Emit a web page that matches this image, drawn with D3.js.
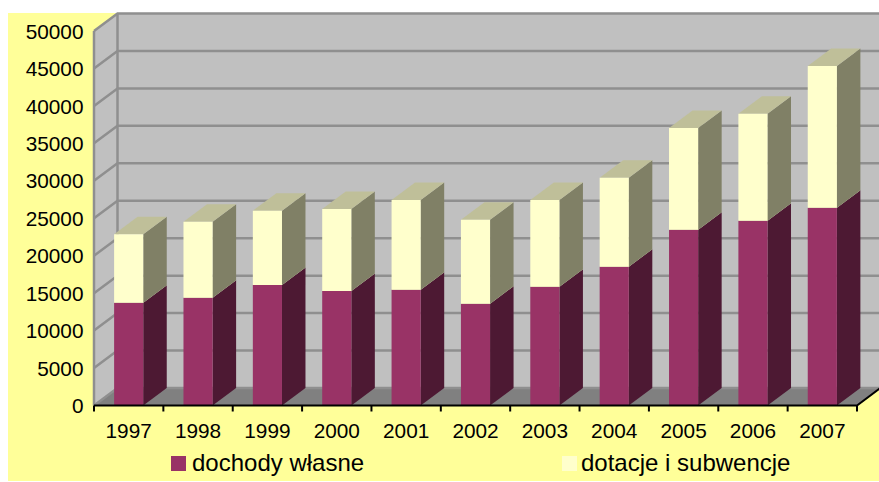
<!DOCTYPE html>
<html><head><meta charset="utf-8">
<style>html,body{margin:0;padding:0;background:#fff}svg{display:block}text{font-family:"Liberation Sans",Arial,sans-serif;fill:#000}</style>
<script src="https://cdn.jsdelivr.net/npm/d3@7"></script></head><body>
<script>
const years=["1997","1998","1999","2000","2001","2002","2003","2004","2005","2006","2007"];
const dochody=[13720,14390,16090,15290,15460,13590,15860,18530,23470,24670,26410];
const dotacje=[9130,10150,9920,10950,11970,11210,11570,11880,13580,14280,18920];
const yTicks=[0,5000,10000,15000,20000,25000,30000,35000,40000,45000,50000];
const seriesNames=["dochody własne","dotacje i subwencje"];
const W=879,H=482,dx=23.5,dy=-17.5;
const svg=d3.select("body").append("svg").attr("width",W).attr("height",H);
svg.append("rect").attr("x",8).attr("y",13).attr("width",W-8).attr("height",H-14).attr("fill","#ffff99");
const y=d3.scaleLinear().domain([0,50000]).range([405.5,31]);
const x=d3.scaleBand().domain(years).range([94,857]).paddingInner(0.58).paddingOuter(0.29);
const x0=94,x1=857,step=x.step();
const poly=(pts,fill,stroke)=>svg.append("polygon").attr("points",pts.map(p=>p.join(",")).join(" ")).attr("fill",fill).attr("stroke",stroke||"none");
// walls and floor
poly([[x0+dx,y(50000)+dy],[x1+dx,y(50000)+dy],[x1+dx,y(0)+dy],[x0+dx,y(0)+dy]],"#c0c0c0");
poly([[x0,y(50000)],[x0+dx,y(50000)+dy],[x0+dx,y(0)+dy],[x0,y(0)]],"#c0c0c0");
poly([[x0,y(0)],[x0+dx,y(0)+dy],[x1+dx,y(0)+dy],[x1,y(0)]],"#808080");
const grid=svg.append("g").attr("fill","none").attr("stroke","#8f8f8f").attr("stroke-width",2.5);
grid.selectAll("path").data(yTicks).join("path")
  .attr("d",v=>`M${x0},${y(v)}L${x0+dx},${y(v)+dy}L${x1+dx},${y(v)+dy}`);
grid.append("path").attr("d",`M${x0},${y(50000)}L${x0},${y(0)}M${x0+dx},${y(50000)+dy}L${x0+dx},${y(0)+dy}`);
// bars
const faces=[{front:"#993366",top:"#bfbf99",side:"#4d1933"},{front:"#ffffcc",top:"#bfbf99",side:"#808066"}];
years.forEach((yr,i)=>{
  const l=x(yr),r=l+x.bandwidth();
  const segs=[[0,dochody[i],faces[0]],[dochody[i],dochody[i]+dotacje[i],faces[1]]];
  segs.forEach(([a,b,c])=>{
    const ya=y(a),yb=y(b);
    poly([[r,ya],[r+dx,ya+dy],[r+dx,yb+dy],[r,yb]],c.side);
    poly([[l,yb],[l+dx,yb+dy],[r+dx,yb+dy],[r,yb]],c.top);
    poly([[l,ya],[l,yb],[r,yb],[r,ya]],c.front);
  });
});
// axis lines
const ax=svg.append("g").attr("stroke","#000").attr("fill","none").attr("stroke-width",2);
ax.append("path").attr("d",`M${x0},${y(0)}L${x1},${y(0)}L${x1+dx},${y(0)+dy}`);
ax.selectAll("line").data(d3.range(years.length+1)).join("line")
  .attr("x1",i=>x0+i*step).attr("x2",i=>x0+i*step).attr("y1",y(0)).attr("y2",y(0)+6);
// labels
const ly=svg.append("g").attr("transform","translate(83.5,0.5)")
  .call(d3.axisLeft(y).tickValues(yTicks).tickSize(0).tickPadding(0).tickFormat(d=>String(d)));
ly.select(".domain").remove();
ly.selectAll("text").attr("font-size",20.8).style("font-family",'"Liberation Sans"').attr("fill","#000");
const lx=svg.append("g").attr("transform","translate(0,423)")
  .call(d3.axisBottom(x).tickSize(0).tickPadding(0));
lx.select(".domain").remove();
lx.selectAll("text").attr("font-size",20.8).style("font-family",'"Liberation Sans"').attr("fill","#000");
// legend
const legX=[171,562],txtX=[192,581],legFill=["#993366","#ffffcc"];
seriesNames.forEach((n,i)=>{
  svg.append("rect").attr("x",legX[i]).attr("y",456).attr("width",15).attr("height",15).attr("fill",legFill[i]);
  svg.append("text").attr("x",txtX[i]).attr("y",471).attr("font-size",24).text(n);
});
</script></body></html>
